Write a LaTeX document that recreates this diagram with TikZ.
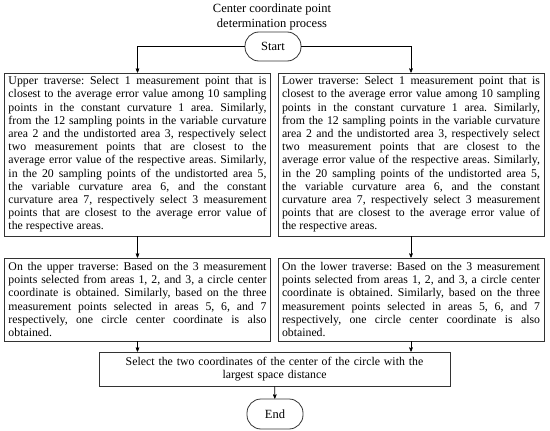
\documentclass[tikz,border=0pt]{standalone}
\usepackage{fontspec}
\setmainfont{Liberation Serif}
\frenchspacing
\usetikzlibrary{arrows,positioning}
\tikzset{
	flow_box/.style = {rectangle, draw=black!80, line width=0.8pt, inner xsep=4pt,
		inner ysep=2pt, align=justify, text width=258pt,
		font=\fontsize{11.8}{13.2}\selectfont},% pas de calcul
	flow_end/.style = {rectangle, draw=black!80, line width=0.8pt, rounded corners=14pt,
		minimum width=56pt, minimum height=29pt, font=\fontsize{12.5}{14}\selectfont}% debut, fin
}

\begin{document}
\begin{tikzpicture}[->,>=stealth',x=1pt,y=1pt,line width=0.6pt]
\useasboundingbox (0,0) rectangle (550,-431);
\node [align=center, font=\fontsize{12.5}{15}\selectfont] (title) at (272,-17)
	{Center coordinate point\\determination process};
\node [flow_end] (start) at (273,-46.5) {Start};
\node [flow_box, minimum height=163pt] (upsel) at (137.5,-154.5)
	{Upper traverse: Select 1 measurement point that is\linebreak
	closest to the average error value among 10 sampling\linebreak
	points in the constant curvature 1 area. Similarly,\linebreak
	from the 12 sampling points in the variable curvature\linebreak
	area 2 and the undistorted area 3, respectively select\linebreak
	two measurement points that are closest to the\linebreak
	average error value of the respective areas. Similarly,\linebreak
	in the 20 sampling points of the undistorted area 5,\linebreak
	the variable curvature area 6, and the constant\linebreak
	curvature area 7, respectively select 3 measurement\linebreak
	points that are closest to the average error value of\linebreak
	the respective areas.};
\node [flow_box, minimum height=163pt] (lowsel) at (411,-154.5)
	{Lower traverse: Select 1 measurement point that is\linebreak
	closest to the average error value among 10 sampling\linebreak
	points in the constant curvature 1 area. Similarly,\linebreak
	from the 12 sampling points in the variable curvature\linebreak
	area 2 and the undistorted area 3, respectively select\linebreak
	two measurement points that are closest to the\linebreak
	average error value of the respective areas. Similarly,\linebreak
	in the 20 sampling points of the undistorted area 5,\linebreak
	the variable curvature area 6, and the constant\linebreak
	curvature area 7, respectively select 3 measurement\linebreak
	points that are closest to the average error value of\linebreak
	the respective areas.};
\node [flow_box, minimum height=83pt] (upfit) at (137.5,-299.5)
	{On the upper traverse: Based on the 3 measurement\linebreak
	points selected from areas 1, 2, and 3, a circle center\linebreak
	coordinate is obtained. Similarly, based on the three\linebreak
	measurement points selected in areas 5, 6, and 7\linebreak
	respectively, one circle center coordinate is also\linebreak
	obtained.};
\node [flow_box, minimum height=83pt] (lowfit) at (411,-299.5)
	{On the lower traverse: Based on the 3 measurement\linebreak
	points selected from areas 1, 2, and 3, a circle center\linebreak
	coordinate is obtained. Similarly, based on the three\linebreak
	measurement points selected in areas 5, 6, and 7\linebreak
	respectively, one circle center coordinate is also\linebreak
	obtained.};
\node [flow_box, align=center, text width=343pt, minimum height=34pt] (maxd) at (274.5,-369)
	{Select the two coordinates of the center of the circle with the\\
	largest space distance};
\node [flow_end, minimum height=30pt] (finish) at (275,-414) {End};

\draw (start.west) -| (upsel.north);
\draw (start.east) -| (lowsel.north);
\draw (upsel) -- (upfit);
\draw (lowsel) -- (lowfit);
\draw (upfit.south) -- (upfit.south |- maxd.north);
\draw (lowfit.south) -- (lowfit.south |- maxd.north);
\draw (maxd) -- (finish);
\end{tikzpicture}
\end{document}
